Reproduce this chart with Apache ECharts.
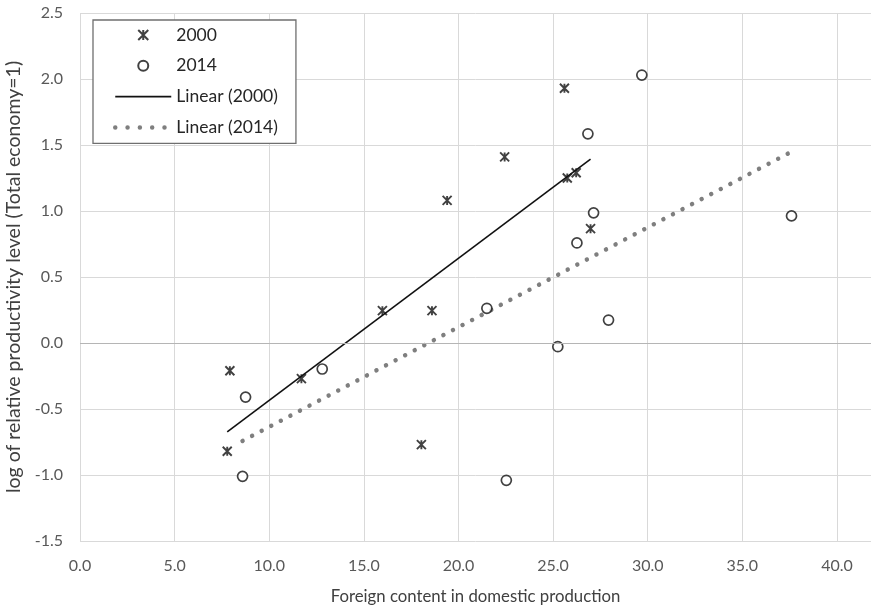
<!DOCTYPE html>
<html>
<head>
<meta charset="utf-8">
<script src="https://cdn.jsdelivr.net/npm/echarts@6/dist/echarts.min.js"></script>
<style>
html,body{margin:0;padding:0;background:#fff;}
#chart{width:871px;height:610px;}
</style>
</head>
<body>
<div id="chart"></div>
<script>
// ---- data ----
const x2000 = [7.92, 7.78, 11.7, 15.98, 18.6, 18.04, 19.4, 22.44, 25.6, 25.75, 26.22, 26.98];
const y2000 = [-0.21, -0.82, -0.27, 0.245, 0.245, -0.77, 1.08, 1.41, 1.93, 1.25, 1.29, 0.866];
const x2014 = [8.75, 8.59, 12.8, 21.5, 25.25, 22.53, 26.26, 27.14, 26.84, 29.69, 27.93, 37.6];
const y2014 = [-0.41, -1.01, -0.197, 0.263, -0.028, -1.04, 0.758, 0.986, 1.585, 2.03, 0.174, 0.963];
const seriesNames = ['2000', '2014', 'Linear (2000)', 'Linear (2014)'];
const xTitle = 'Foreign content in domestic production';
const yTitle = 'log of relative productivity level (Total economy=1)';

function pairs(xs, ys) { return xs.map((x, i) => [x, ys[i]]); }
function linFit(xs, ys) {
  const n = xs.length;
  const mx = xs.reduce((a, b) => a + b, 0) / n;
  const my = ys.reduce((a, b) => a + b, 0) / n;
  let sxy = 0, sxx = 0;
  for (let i = 0; i < n; i++) { sxy += (xs[i] - mx) * (ys[i] - my); sxx += (xs[i] - mx) ** 2; }
  const b = sxy / sxx, a = my - b * mx;
  const x0 = Math.min(...xs), x1 = Math.max(...xs);
  return [[x0, a + b * x0], [x1, a + b * x1]];
}

const FONT = 'Lato';
const hiddenSym = {color: 'rgba(0,0,0,0)', borderWidth: 0, opacity: 0};
const chart = echarts.init(document.getElementById('chart'), null, {renderer: 'canvas'});
chart.setOption({
  animation: false,
  backgroundColor: '#fff',
  textStyle: {fontFamily: FONT},
  grid: {left: 80, right: 0, top: 13, bottom: 69, containLabel: false, outerBoundsMode: 'none'},
  legend: {
    orient: 'vertical',
    left: 93, top: 20,
    padding: [6, 18, 7, 20],
    backgroundColor: '#fff',
    borderColor: '#6f6f6f',
    borderWidth: 1.3,
    itemWidth: 56,
    itemHeight: 10,
    itemGap: 12.8,
    textStyle: {fontFamily: FONT, fontSize: 17.5, color: '#262626', lineHeight: 14},
    data: [
      {name: seriesNames[0]},
      {name: seriesNames[1]},
      {name: seriesNames[2], itemStyle: hiddenSym,
        lineStyle: {color: '#111', width: 1.6, type: 'solid'}},
      {name: seriesNames[3], itemStyle: hiddenSym,
        lineStyle: {color: '#7f7f7f', width: 4.5, type: [0.01, 12.3], cap: 'round'}}
    ]
  },
  xAxis: {
    type: 'value', min: 0, max: 41.8, interval: 5,
    name: xTitle, nameLocation: 'middle', nameGap: 47,
    nameTextStyle: {fontFamily: FONT, fontSize: 16.75, color: '#404040'},
    axisLine: {show: false}, axisTick: {show: false},
    axisLabel: {fontFamily: FONT, fontSize: 16, color: '#595959', margin: 17,
      showMaxLabel: false,
      formatter: v => (Math.abs(v / 5 - Math.round(v / 5)) < 1e-6 ? v.toFixed(1) : '')},
    splitLine: {show: true, showMaxLine: false, lineStyle: {color: '#d9d9d9', width: 1}}
  },
  yAxis: {
    type: 'value', min: -1.5, max: 2.5, interval: 0.5,
    name: yTitle, nameLocation: 'middle', nameGap: 55,
    nameTextStyle: {fontFamily: FONT, fontSize: 19.5, color: '#404040'},
    axisLine: {show: false}, axisTick: {show: false},
    axisLabel: {fontFamily: FONT, fontSize: 16, color: '#595959', margin: 17,
      formatter: v => v.toFixed(1)},
    splitLine: {show: true, lineStyle: {color: '#d9d9d9', width: 1}}
  },
  series: [
    {
      name: seriesNames[0], type: 'scatter',
      data: pairs(x2000, y2000),
      symbol: 'path://M0,0L10,10M10,0L0,10M5,0L5,10',
      symbolSize: 9,
      itemStyle: {color: 'rgba(0,0,0,0)', borderColor: '#111', borderWidth: 1.9},
      z: 4,
      markLine: {
        silent: true, symbol: 'none', label: {show: false},
        lineStyle: {color: '#b5b5b5', width: 1.2, type: 'solid'},
        data: [{yAxis: 0}]
      }
    },
    {
      name: seriesNames[1], type: 'scatter',
      data: pairs(x2014, y2014),
      symbol: 'circle', symbolSize: 10,
      itemStyle: {color: '#fff', borderColor: '#111', borderWidth: 1.7},
      z: 4
    },
    {
      name: seriesNames[2], type: 'line',
      data: linFit(x2000, y2000),
      symbol: 'none', showSymbol: false,
      lineStyle: {color: '#111', width: 1.6},
      itemStyle: {color: '#111'},
      z: 3
    },
    {
      name: seriesNames[3], type: 'line',
      data: linFit(x2014, y2014),
      symbol: 'none', showSymbol: false,
      lineStyle: {color: '#7f7f7f', width: 4.5, type: [0.01, 10.8], cap: 'round'},
      itemStyle: {color: '#7f7f7f'},
      z: 3
    }
  ]
});
</script>
</body>
</html>
